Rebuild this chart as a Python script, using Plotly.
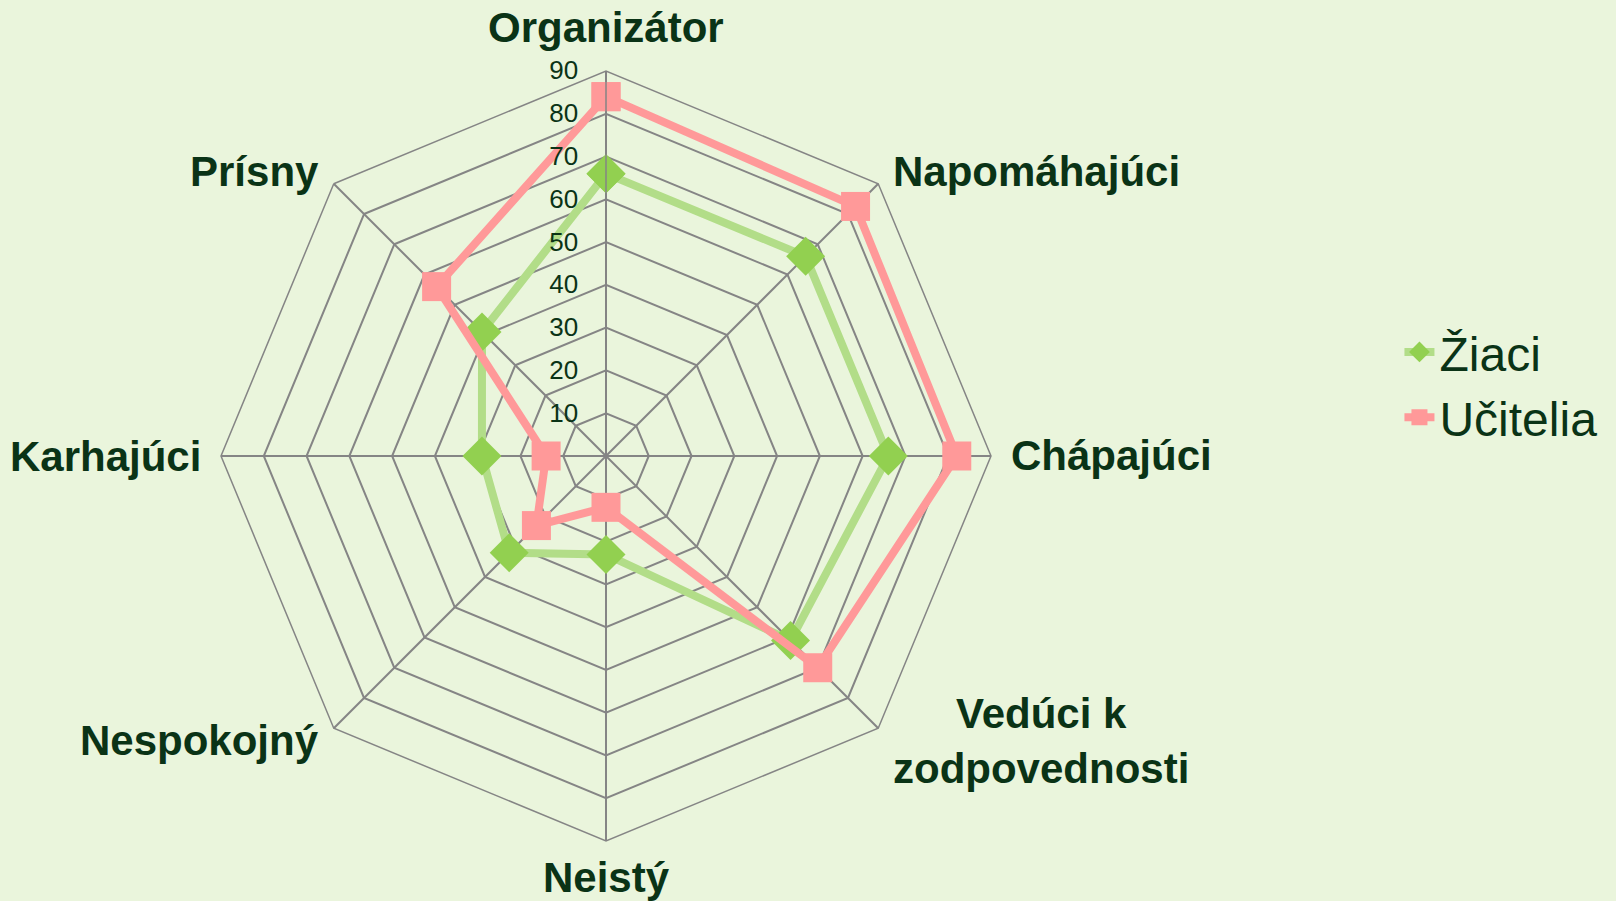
import math
import plotly.graph_objects as go

categories = ["Organizátor", "Napomáhajúci", "Chápajúci", "Vedúci k<br>zodpovednosti",
              "Neistý", "Nespokojný", "Karhajúci", "Prísny"]
ziaci = [66, 66, 66, 61, 23, 32, 29, 41]
ucitelia = [84, 82.5, 82, 70, 12, 23, 14, 56]
radial_ticks = [10, 20, 30, 40, 50, 60, 70, 80, 90]

bg = "#EAF5DC"
txt = "#0A3316"
grid = "#858585"
fam = "Liberation Sans, Arial, sans-serif"

fig = go.Figure()
fig.add_trace(go.Scatterpolar(
    r=ziaci + ziaci[:1], theta=categories + categories[:1], name="Žiaci",
    mode="lines+markers",
    line=dict(color="#B2DD88", width=8),
    marker=dict(symbol="diamond", size=30, color="#92D050"),
))
fig.add_trace(go.Scatterpolar(
    r=ucitelia + ucitelia[:1], theta=categories + categories[:1], name="Učitelia",
    mode="lines+markers",
    line=dict(color="#FF9999", width=8),
    marker=dict(symbol="square", size=29, color="#FF9999"),
))

W, H = 1616, 901
cx, cy, R = 606, 456, 385
GAP = 18
GAP_BOTTOM = 11

# category labels placed just outside the outer polygon's vertices
annotations = []
n = len(categories)
for i, name in enumerate(categories):
    ang = math.radians(90 - i * 360 / n)
    c, s = math.cos(ang), math.sin(ang)
    gap = GAP_BOTTOM if (abs(c) < 0.1 and s < 0) else GAP
    px = cx + (R + gap) * c
    py = cy - (R + gap) * s
    if abs(c) < 0.1:
        xa, ya = "center", ("bottom" if s > 0 else "top")
    else:
        xa, ya = ("left" if c > 0 else "right"), "middle"
    annotations.append(dict(
        text=name, x=px / W, y=1 - py / H, xref="paper", yref="paper",
        xanchor=xa, yanchor=ya, align="center", showarrow=False,
        font=dict(size=42, color=txt, family=fam, weight="bold"),
    ))

fig.update_layout(
    width=W, height=H,
    margin=dict(l=0, r=0, t=0, b=0),
    paper_bgcolor=bg, plot_bgcolor=bg,
    font=dict(family=fam, color=txt),
    annotations=annotations,
    polar=dict(
        bgcolor=bg,
        gridshape="linear",
        domain=dict(x=[(cx - R) / W, (cx + R) / W], y=[(H - cy - R) / H, (H - cy + R) / H]),
        angularaxis=dict(
            direction="clockwise", rotation=90,
            showline=True, linecolor=grid, linewidth=1.5,
            gridcolor=grid, gridwidth=1.5,
            ticks="", showticklabels=False,
            categoryarray=categories,
        ),
        radialaxis=dict(
            range=[0, 90], tickvals=radial_ticks, angle=90, side="counterclockwise",
            showline=True, linecolor=grid, linewidth=1.5,
            gridcolor=grid, gridwidth=1.5,
            ticks="outside", ticklen=18, tickcolor="rgba(0,0,0,0)",
            tickfont=dict(size=26, color=txt), tickangle=90,
        ),
    ),
    legend=dict(
        x=0.866, y=0.573, xanchor="left", yanchor="middle",
        font=dict(size=48, color=txt), bgcolor="rgba(0,0,0,0)",
    ),
    showlegend=True,
)
fig.write_html("out.html", config={"displayModeBar": False})

with open("out.html", encoding="utf-8") as f:
    html = f.read()
html = html.replace("<head>", "<head><style>html,body{margin:0;padding:0;overflow:hidden;}</style>", 1)
with open("out.html", "w", encoding="utf-8") as f:
    f.write(html)
